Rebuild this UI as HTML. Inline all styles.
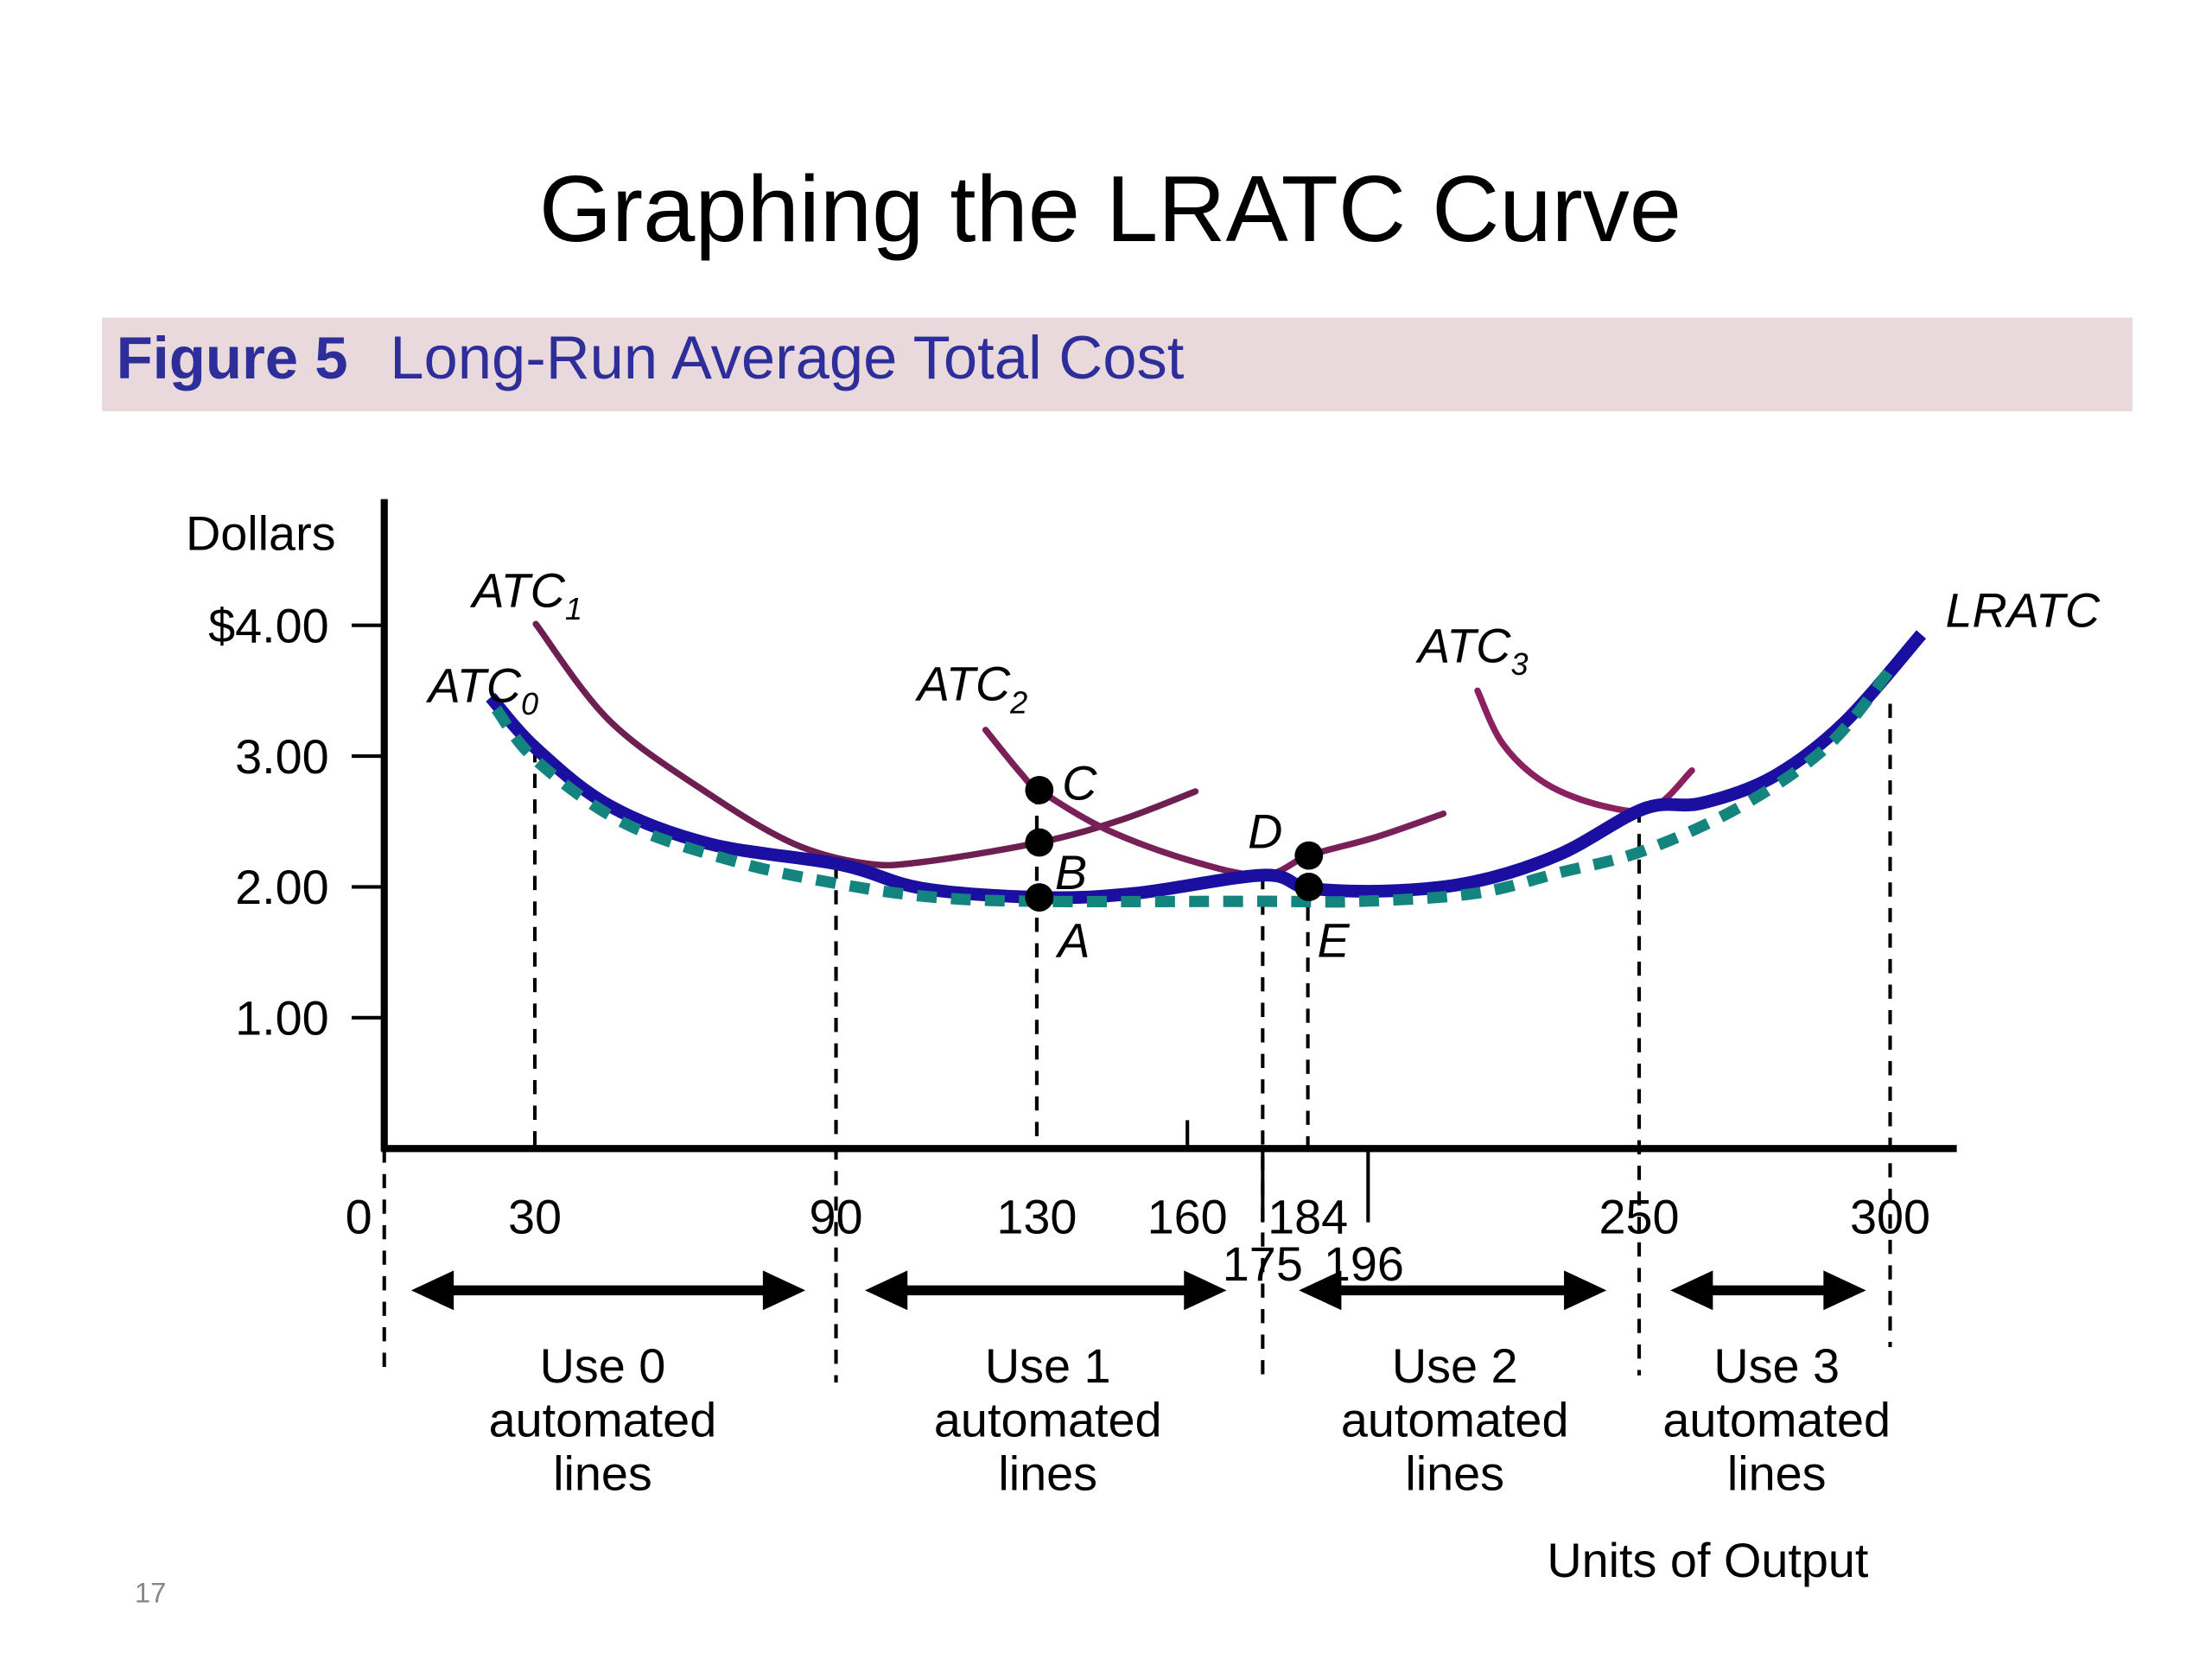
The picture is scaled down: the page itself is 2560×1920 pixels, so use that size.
<!DOCTYPE html>
<html><head><meta charset="utf-8">
<style>
html,body{margin:0;padding:0;background:#fff;}
svg{display:block;}
text{font-family:"Liberation Sans",sans-serif;}
</style></head>
<body>
<svg id="chart" width="2560" height="1920" viewBox="0 0 1560 1170" xmlns="http://www.w3.org/2000/svg">
<text x="783" y="170" text-anchor="middle" font-size="66" fill="#000">Graphing the LRATC Curve</text>
<rect x="72" y="224" width="1432" height="66" fill="#ead9dc"/>
<text y="267" font-size="42" fill="#2e2e9a"><tspan x="82" font-weight="bold">Figure 5</tspan><tspan x="275" font-size="43">Long-Run Average Total Cost</tspan></text>
<g id="guides"></g>
<g id="curves"></g>
<g id="axes"></g>
<g id="annot"></g>
<text x="95" y="1130" font-size="20" fill="#888">17</text>
</svg>
<script>
const ticksY = [1, 2, 3, 4];
const tickYLabels = ["1.00", "2.00", "3.00", "$4.00"];
const ticksX = [0, 30, 90, 130, 160, 184, 250, 300];
const ticksXLow = [175, 196];
const atc1Q = [30.2, 44.9, 64.7, 81.6, 95.8, 107.1, 130.5, 146.6, 161.6];
const atc1V = [4.01, 3.27, 2.71, 2.33, 2.18, 2.19, 2.34, 2.51, 2.73];
const atc2Q = [119.8, 126.8, 130.5, 143.8, 160.7, 175.1, 184.2, 197.5, 211];
const atc2V = [3.20, 2.87, 2.74, 2.44, 2.20, 2.09, 2.24, 2.38, 2.56];
const atc3Q = [217.8, 222.9, 231.4, 242.7, 252.5, 260.5];
const atc3V = [3.50, 3.09, 2.79, 2.62, 2.60, 2.89];
const lratcQ = [21.2, 30.2, 44.9, 64.7, 91, 107.1, 130.5, 149.4, 175.1, 184.2, 200.3, 217.2, 234.2, 251.1, 262.4, 276.6, 290.7, 306.2];
const lratcV = [3.45, 3.06, 2.62, 2.33, 2.17, 1.99, 1.92, 1.95, 2.09, 1.99, 1.97, 2.04, 2.25, 2.60, 2.64, 2.84, 3.25, 3.93];
const envQ = [22.3, 30.2, 47.7, 70.3, 91, 109.9, 130.5, 175.1, 194.6, 217.2, 234.2, 251.1, 270.9, 287.9, 300.6];
const envV = [3.36, 2.97, 2.49, 2.19, 2.02, 1.92, 1.89, 1.89, 1.89, 1.95, 2.11, 2.28, 2.63, 3.09, 3.69];
const pointNames = ["A", "B", "C", "D", "E"];
const pointQ = [130.5, 130.5, 130.5, 184.2, 184.2];
const pointV = [1.92, 2.34, 2.74, 2.24, 2.00];

const X0 = 271, XS = 3.54, Y0 = 810, YS = 92.25;
const sx = q => X0 + q * XS;
const sy = v => Y0 - v * YS;
const NS = "http://www.w3.org/2000/svg";
function mk(tag, attrs, parent, txt) {
  const e = document.createElementNS(NS, tag);
  for (const k in attrs) e.setAttribute(k, attrs[k]);
  if (txt !== undefined) e.textContent = txt;
  parent.appendChild(e);
  return e;
}
function smooth(qs, vs) {
  const p = qs.map((q, i) => [sx(q), sy(vs[i])]);
  let d = "M" + p[0][0] + "," + p[0][1];
  for (let i = 0; i < p.length - 1; i++) {
    const p0 = p[Math.max(0, i - 1)], p1 = p[i], p2 = p[i + 1], p3 = p[Math.min(p.length - 1, i + 2)];
    const c1 = [p1[0] + (p2[0] - p0[0]) / 6, p1[1] + (p2[1] - p0[1]) / 6];
    const c2 = [p2[0] - (p3[0] - p1[0]) / 6, p2[1] - (p3[1] - p1[1]) / 6];
    d += " C" + c1 + " " + c2 + " " + p2;
  }
  return d;
}
const guides = document.getElementById("guides");
const curves = document.getElementById("curves");
const axes = document.getElementById("axes");
const annot = document.getElementById("annot");

const guideQ = [0, 30, 90, 130, 175, 184, 250, 300];
const guideTopV = [0, 3.06, 2.17, 2.74, 2.09, 2.24, 2.60, 3.40];
const guideBottom = [970, 810, 975, 810, 975, 810, 970, 950];
guideQ.forEach((q, i) => {
  const l = mk("line", {x1: sx(q), x2: sx(q), y1: sy(guideTopV[i]), y2: guideBottom[i], stroke: "#000", "stroke-width": 2.5, "stroke-dasharray": "10 8"}, guides);
  
  
});

const series = [[atc1Q, atc1V, "#6e1f52", "atc1-curve"], [atc2Q, atc2V, "#7a2058", "atc2-curve"], [atc3Q, atc3V, "#8a2060", "atc3-curve"]];
series.forEach(s => {
  const p = mk("path", {d: smooth(s[0], s[1]), fill: "none", stroke: s[2], "stroke-width": 4.5, "stroke-linecap": "round"}, curves);
  
  
});
const lr = mk("path", {d: smooth(lratcQ, lratcV), fill: "none", stroke: "#1a0fa0", "stroke-width": 9, "stroke-linecap": "butt"}, curves);


const env = mk("path", {d: smooth(envQ, envV), fill: "none", stroke: "#13847e", "stroke-width": 8, "stroke-dasharray": "14 10"}, curves);



pointNames.forEach((n, i) => {
  const c = mk("circle", {cx: sx(pointQ[i]), cy: sy(pointV[i]), r: 10, fill: "#000"}, curves);
  
  
});

const ya = mk("line", {x1: X0, x2: X0, y1: 352, y2: 812, stroke: "#000", "stroke-width": 5}, axes);


const xa = mk("line", {x1: X0 - 2, x2: 1380, y1: Y0, y2: Y0, stroke: "#000", "stroke-width": 5}, axes);


ticksY.forEach((v, i) => {
  const t = mk("line", {x1: 248, x2: X0, y1: sy(v), y2: sy(v), stroke: "#000", "stroke-width": 2.5}, axes);
  
  
  const l = mk("text", {x: 232, y: sy(v) + 12, "text-anchor": "end", "font-size": 34}, axes, tickYLabels[i]);
  
  
});
ticksX.forEach(q => {
  const l = mk("text", {x: sx(q) - (q === 0 ? 18 : 0), y: 870, "text-anchor": "middle", "font-size": 34}, axes, String(q));
  
  
});
const t160 = mk("line", {x1: sx(160), x2: sx(160), y1: 790, y2: Y0, stroke: "#000", "stroke-width": 2.5}, axes);


ticksXLow.forEach(q => {
  const t = mk("line", {x1: sx(q), x2: sx(q), y1: Y0, y2: 862, stroke: "#000", "stroke-width": 2.5}, axes);
  
  
  const l = mk("text", {x: sx(q) + (q === 175 ? 0 : -3), y: 903, "text-anchor": "middle", "font-size": 34}, axes, String(q));
  
  
});

const arrowL = [290, 610, 916, 1178];
const arrowR = [568, 865, 1133, 1316];
const groupX = [425, 739, 1026, 1253];
const groupN = ["0", "1", "2", "3"];
arrowL.forEach((x1, i) => {
  const x2 = arrowR[i];
  const g = mk("g", {}, annot);
  
  
  mk("line", {x1: x1 + 20, x2: x2 - 20, y1: 910, y2: 910, stroke: "#000", "stroke-width": 7}, g);
  mk("polygon", {points: `${x1},910 ${x1 + 30},896 ${x1 + 30},924`, fill: "#000"}, g);
  mk("polygon", {points: `${x2},910 ${x2 - 30},896 ${x2 - 30},924`, fill: "#000"}, g);
  const t = mk("text", {"text-anchor": "middle", "font-size": 34}, annot);
  
  
  ["Use " + groupN[i], "automated", "lines"].forEach((s, j) => mk("tspan", {x: groupX[i], y: 975 + j * 38}, t, s));
});

const labels = [
  ["Dollars", 131, 388, "normal", "y-axis-title"],
  ["Units of Output", 1091, 1112, "normal", "x-axis-title"],
  ["LRATC", 1372, 442, "italic", "lratc-label"],
  ["A", 746, 675, "italic", "label-a"],
  ["B", 744, 627, "italic", "label-b"],
  ["C", 749, 564, "italic", "label-c"],
  ["D", 880, 598, "italic", "label-d"],
  ["E", 929, 675, "italic", "label-e"]
];
labels.forEach(l => {
  const t = mk("text", {x: l[1], y: l[2], "font-size": 34, "font-style": l[3]}, annot, l[0]);
  
  
});
const atcLabels = [["0", 302, 495], ["1", 333, 428], ["2", 647, 494], ["3", 1000, 467]];
atcLabels.forEach(a => {
  const t = mk("text", {x: a[1], y: a[2], "font-size": 34, "font-style": "italic"}, annot);
  
  
  mk("tspan", {}, t, "ATC");
  mk("tspan", {dy: 9, "font-size": 22}, t, a[0]);
});
</script>
</body></html>
